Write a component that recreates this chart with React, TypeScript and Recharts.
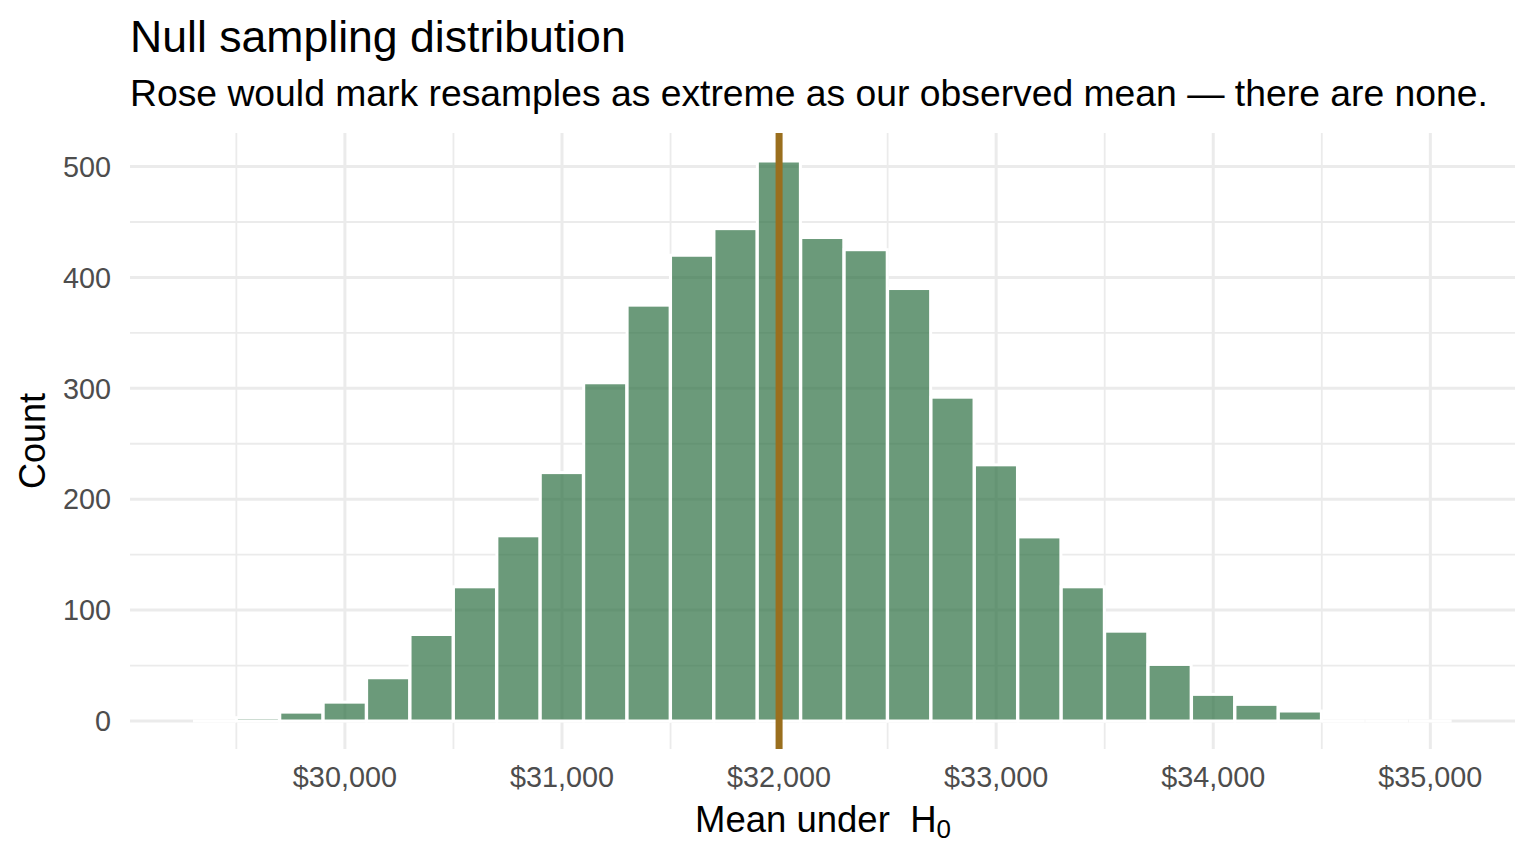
import React from 'react';
import {
  BarChart,
  Bar,
  XAxis,
  YAxis,
  CartesianGrid,
  ReferenceLine,
} from 'recharts';

// bin centres of the null distribution (width 200)
const binCenters = [
  29400, 29600, 29800, 30000, 30200, 30400, 30600, 30800, 31000, 31200,
  31400, 31600, 31800, 32000, 32200, 32400, 32600, 32800, 33000, 33200,
  33400, 33600, 33800, 34000, 34200, 34400, 34600, 34800, 35000,
];

const binCounts = [
  0, 3, 8, 17, 39, 78, 121, 167, 224, 305,
  375, 420, 444, 505, 436, 425, 390, 292, 231, 166,
  121, 81, 51, 24, 15, 9, 0, 0, 0,
];

const xMajorTicks = [30000, 31000, 32000, 33000, 34000, 35000];
const xMinorTicks = [29500, 30500, 31500, 32500, 33500, 34500];
const yMajorTicks = [0, 100, 200, 300, 400, 500];
const yMinorTicks = [50, 150, 250, 350, 450];

const nullMean = 32000;

const X_DOMAIN: [number, number] = [29010, 35390];
const Y_DOMAIN: [number, number] = [-25.25, 530.25];

const FONT = '"Liberation Sans", Arial, Helvetica, sans-serif';
const GRID = '#EBEBEB';
const TICK = '#4D4D4D';

const data = binCenters.map((x, i) => ({ x, count: binCounts[i] }));

const dollar = (v: number) => '$' + v.toLocaleString('en-US');

// ggplot draws empty bins as a flat white outline, so keep them visible
const HistBar = (props: any) => {
  const { x, y, width, height } = props;
  if (!height || Math.abs(height) < 0.5) {
    return <line x1={x} x2={x + width} y1={y} y2={y} stroke="#ffffff" strokeWidth={3} />;
  }
  return (
    <rect
      x={x}
      y={y}
      width={width}
      height={height}
      fill="#2C6F41"
      fillOpacity={0.7}
      stroke="#ffffff"
      strokeWidth={3}
    />
  );
};

const App: React.FC = () => {
  return (
    <div
      style={{
        position: 'absolute',
        left: 0,
        top: 0,
        width: 1536,
        height: 864,
        background: '#ffffff',
        fontFamily: FONT,
      }}
    >
      <BarChart
        width={1536}
        height={864}
        data={data}
        margin={{ top: 133, right: 21, left: 0, bottom: 0 }}
        barCategoryGap={0}
        barGap={0}
      >
        {/* minor grid */}
        <CartesianGrid
          xAxisId="main"
          yAxisId="main"
          verticalValues={xMinorTicks}
          horizontalValues={yMinorTicks}
          syncWithTicks
          stroke={GRID}
          strokeWidth={1.8}
        />
        {/* major grid */}
        <CartesianGrid
          xAxisId="main"
          yAxisId="main"
          syncWithTicks
          stroke={GRID}
          strokeWidth={3}
        />
        <XAxis
          xAxisId="main"
          dataKey="x"
          type="number"
          domain={X_DOMAIN}
          ticks={xMajorTicks}
          allowDataOverflow
          interval={0}
          tickFormatter={dollar}
          axisLine={false}
          tickLine={false}
          tickSize={0}
          tickMargin={18}
          height={115}
          tick={{ fill: TICK, fontSize: 28.8, fontFamily: FONT }}
        />
        <YAxis
          yAxisId="main"
          type="number"
          domain={Y_DOMAIN}
          ticks={yMajorTicks}
          allowDataOverflow
          interval={0}
          axisLine={false}
          tickLine={false}
          tickSize={0}
          tickMargin={19}
          width={130}
          tick={{ fill: TICK, fontSize: 28.8, fontFamily: FONT }}
        />
        <Bar
          xAxisId="main"
          yAxisId="main"
          dataKey="count"
          shape={HistBar}
          isAnimationActive={false}
        />
        <ReferenceLine
          xAxisId="main"
          yAxisId="main"
          x={nullMean}
          stroke="#9A6F1E"
          strokeWidth={7}
        />
      </BarChart>

      <svg
        width={1536}
        height={864}
        style={{ position: 'absolute', left: 0, top: 0, pointerEvents: 'none' }}
      >
        <text x={130} y={52} fontSize={44.6} fill="#000000" fontFamily={FONT}>
          Null sampling distribution
        </text>
        <text x={130} y={106} fontSize={37.3} fill="#000000" fontFamily={FONT}>
          Rose would mark resamples as extreme as our observed mean — there are none.
        </text>
        <text
          x={823}
          y={832}
          fontSize={36.5}
          fill="#000000"
          textAnchor="middle"
          fontFamily={FONT}
        >
          Mean under{'\u00a0\u00a0'}H
          <tspan dy={6} fontSize={26}>0</tspan>
        </text>
        <text
          transform="translate(45 441) rotate(-90)"
          fontSize={36}
          fill="#000000"
          textAnchor="middle"
          fontFamily={FONT}
        >
          Count
        </text>
      </svg>
    </div>
  );
};

export default App;
